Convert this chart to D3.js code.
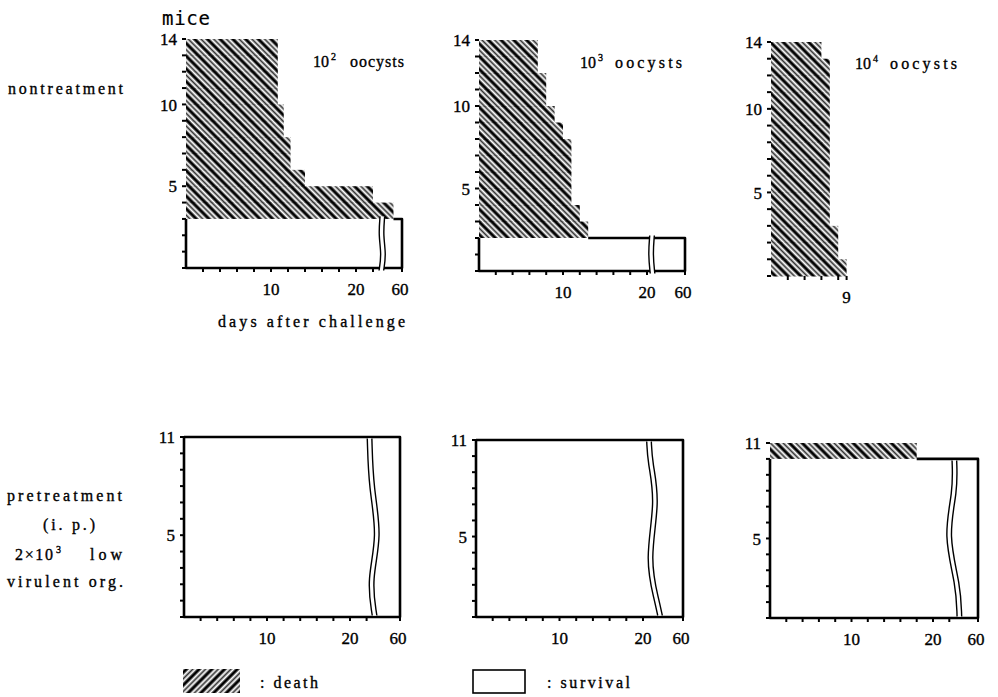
<!DOCTYPE html>
<html><head><meta charset="utf-8">
<script src="https://cdn.jsdelivr.net/npm/d3@7"></script>
<style>
body{margin:0;background:#fff} svg{display:block}
svg text{font-family:"Liberation Serif","DejaVu Serif",serif;fill:#000;stroke:#000;stroke-width:0.35px}
svg text.mono{font-family:"DejaVu Sans Mono",monospace;stroke-width:0.2px}
</style>
</head><body>
<script>
// ---------------- DATA ----------------
const panelNames = ["nontreatment 10^2","nontreatment 10^3","nontreatment 10^4","pretreatment 10^2","pretreatment 10^3","pretreatment 10^4"];
const doseExponent = [2, 3, 4, null, null, null];
const miceTotal = [14, 14, 14, 11, 11, 11];
const survivors = [3, 2, 0, 11, 11, 10];
const deathDays = [
  [10.8, 10.8, 10.8, 10.8, 11.5, 11.5, 12.3, 12.3, 14, 22, 44],
  [7, 7, 8, 8, 9, 10, 11, 11, 11, 11, 12, 13],
  [6, 7, 7, 7, 7, 7, 7, 7, 7, 7, 7, 8, 8, 9],
  [],
  [],
  [18]
];
const axisBreakDay = [23.1, 20.6, null, 22.9, 21.2, 22.5];
const axisMaxDay = [60, 60, 9, 60, 60, 60];
const xTickLabels = [[10, 20, 60], [10, 20, 60], [9], [10, 20, 60], [10, 20, 60], [10, 20, 60]];
const yTickLabels = [[5, 10, 14], [5, 10, 14], [5, 10, 14], [5, 11], [5, 11], [5, 11]];

// ---------------- LAYOUT ----------------
const layout = [
  {x0:186, k:8.5,  W:216, y0:268, yT:39,  cut:true,  wave:[[0,0],[0.35,-1.5],[0.7,1.5],[1,-1]]},
  {x0:479, k:8.4,  W:206, y0:271, yT:40,  cut:true,  wave:[[0,0],[0.5,-1.5],[1,0.5]]},
  {x0:771, k:8.4,  W:null,y0:276, yT:42},
  {x0:184, k:8.3,  W:216, y0:617, yT:437, cut:false, wave:[[0,-4.5],[0.28,-3],[0.55,6],[0.8,-5],[1,0.5]]},
  {x0:476, k:8.35, W:207, y0:617, yT:440, cut:false, wave:[[0,-4],[0.12,-3],[0.34,5],[0.68,-6],[0.92,4],[1,7]]},
  {x0:770, k:8.15, W:208, y0:618, yT:443, cut:false, wave:[[0,1],[0.2,2],[0.48,-8],[0.8,5],[1,6]]}
];

const svg = d3.select("body").append("svg").attr("width", 998).attr("height", 697)
  .style("background", "#fff");

const defs = svg.append("defs");
function hatch(id, angle) {
  const p = defs.append("pattern").attr("id", id).attr("patternUnits", "userSpaceOnUse")
    .attr("width", 9).attr("height", 9).attr("patternTransform", `rotate(${angle})`);
  p.append("line").attr("x1", 2).attr("x2", 2).attr("y1", -1).attr("y2", 10)
    .attr("stroke", "#000").attr("stroke-width", 3.2);
  p.append("line").attr("x1", 6.5).attr("x2", 6.5).attr("y1", -1).attr("y2", 10)
    .attr("stroke", "#333").attr("stroke-width", 1.8);
}
hatch("hatch", -45);
hatch("hatchL", 45);

panelNames.forEach((name, i) => {
  const L = layout[i];
  const g = svg.append("g");
  const brk = axisBreakDay[i];
  const maxD = axisMaxDay[i];
  const x = brk == null
    ? d3.scaleLinear().domain([0, maxD]).range([L.x0, L.x0 + maxD * L.k])
    : d3.scaleLinear().domain([0, brk, maxD]).range([L.x0, L.x0 + brk * L.k, L.x0 + L.W]);
  const y = d3.scaleLinear().domain([0, miceTotal[i]]).range([L.y0, L.yT]);

  // death rows (hatched)
  const days = deathDays[i].slice().sort((a, b) => a - b);
  g.selectAll("rect.death").data(days).join("rect").attr("class", "death")
    .attr("x", x(0))
    .attr("y", (d, j) => y(miceTotal[i] - j))
    .attr("width", d => x(d) - x(0))
    .attr("height", (d, j) => y(miceTotal[i] - j - 1) - y(miceTotal[i] - j) + 0.5)
    .attr("fill", "url(#hatch)");

  // survivors box
  const s = survivors[i];
  if (s > 0) {
    const xl = x(0), xr = x(maxD), yt = y(s), yb = y(0);
    g.append("rect").attr("x", xl).attr("y", yt).attr("width", xr - xl).attr("height", yb - yt)
      .attr("fill", "#fff");
    const topStart = days.length ? x(days[days.length - 1]) : xl;
    g.append("path")
      .attr("d", `M${topStart},${yt} L${xr},${yt} L${xr},${yb} L${xl},${yb} L${xl},${yt}` + (days.length ? "" : ` L${topStart},${yt}`))
      .attr("fill", "none").attr("stroke", "#000").attr("stroke-width", 2.6)
      .attr("stroke-linejoin", "round");

    if (brk != null) {
      const xc = x(brk);
      const ext = L.cut ? 2.5 : -1.5;
      const pts = L.wave.map(([t, o]) => [xc + o, yt - ext + t * (yb - yt + 2 * ext)]);
      const line = d3.line().curve(d3.curveBasis);
      const left = pts.map(([px, py]) => [px - 2.3, py]);
      const right = pts.map(([px, py]) => [px + 2.3, py]);
      g.append("path").attr("d", line(left) + "L" + line(right.slice().reverse()).slice(1) + "Z")
        .attr("fill", "#fff").attr("stroke", "none");
      [left, right].forEach(pp => g.append("path").attr("d", line(pp))
        .attr("fill", "none").attr("stroke", "#000").attr("stroke-width", 1.4));
    }
  }

  // y ticks
  const yt = d3.range(0, miceTotal[i] + 1);
  g.selectAll("line.yt").data(yt).join("line")
    .attr("x1", x(0) - 4).attr("x2", x(0)).attr("y1", d => y(d)).attr("y2", d => y(d))
    .attr("stroke", "#000").attr("stroke-width", 2);
  g.selectAll("text.yl").data(yTickLabels[i]).join("text")
    .attr("x", x(0) - 9).attr("y", d => y(d)).attr("dy", "0.36em")
    .attr("text-anchor", "end").attr("font-size", 17)
    .text(d => d);

  // x ticks
  const lim = brk == null ? maxD : brk;
  const xt = d3.range(2, lim, 2).concat([maxD]);
  g.selectAll("line.xt").data(xt).join("line")
    .attr("x1", d => x(d)).attr("x2", d => x(d)).attr("y1", y(0)).attr("y2", y(0) + 4)
    .attr("stroke", "#000").attr("stroke-width", 2);
  g.selectAll("text.xl").data(xTickLabels[i]).join("text")
    .attr("x", d => x(d) - (d === 60 ? 2 : 0)).attr("y", y(0) + 27)
    .attr("text-anchor", "middle").attr("font-size", 17)
    .text(d => d);
});

// dose labels
const doseLabelPos = [
  {x:313, y:67, ox:350, ol:54},
  {x:580, y:68, ox:615, ol:67},
  {x:855, y:69, ox:890, ol:67}
];
doseExponent.forEach((e, i) => {
  if (e == null) return;
  const p = doseLabelPos[i];
  const t = svg.append("text").attr("x", p.x).attr("y", p.y).attr("font-size", 16);
  t.append("tspan").text("10");
  t.append("tspan").attr("dx", 2).attr("dy", -7).attr("font-size", 10).text(e);
  svg.append("text").attr("x", p.ox).attr("y", p.y)
    .attr("font-size", 16).attr("textLength", p.ol).attr("lengthAdjust", "spacing").text("oocysts");
});

// axis titles and row labels
svg.append("text").attr("class", "mono").attr("x", 162).attr("y", 25)
  .attr("font-size", 19).attr("textLength", 48).text("mice");
svg.append("text").attr("x", 218).attr("y", 327).attr("font-size", 16)
  .attr("textLength", 187).attr("lengthAdjust", "spacing").text("days after challenge");

function label(txt, xx, yy, len, anchor) {
  return svg.append("text").attr("x", xx).attr("y", yy)
    .attr("font-size", 16).attr("text-anchor", anchor || "start")
    .attr("textLength", len).attr("lengthAdjust", "spacing").text(txt);
}
label("nontreatment", 8, 94, 115);
label("pretreatment", 7, 501, 115);
label("(i. p.)", 43, 530, 52);
label("2×10", 15, 560, 38);
svg.append("text").attr("x", 56).attr("y", 553).attr("font-size", 10).text("3");
label("low", 90, 560, 32);
label("virulent org.", 7, 587, 116);

// legend
svg.append("rect").attr("x", 183).attr("y", 669).attr("width", 57).attr("height", 24)
  .attr("fill", "url(#hatchL)");
label(": death", 260, 688, 58);
svg.append("rect").attr("x", 473).attr("y", 670).attr("width", 52).attr("height", 23)
  .attr("fill", "#fff").attr("stroke", "#000").attr("stroke-width", 1.6);
label(": survival", 547, 688, 83);
</script>
</body></html>
